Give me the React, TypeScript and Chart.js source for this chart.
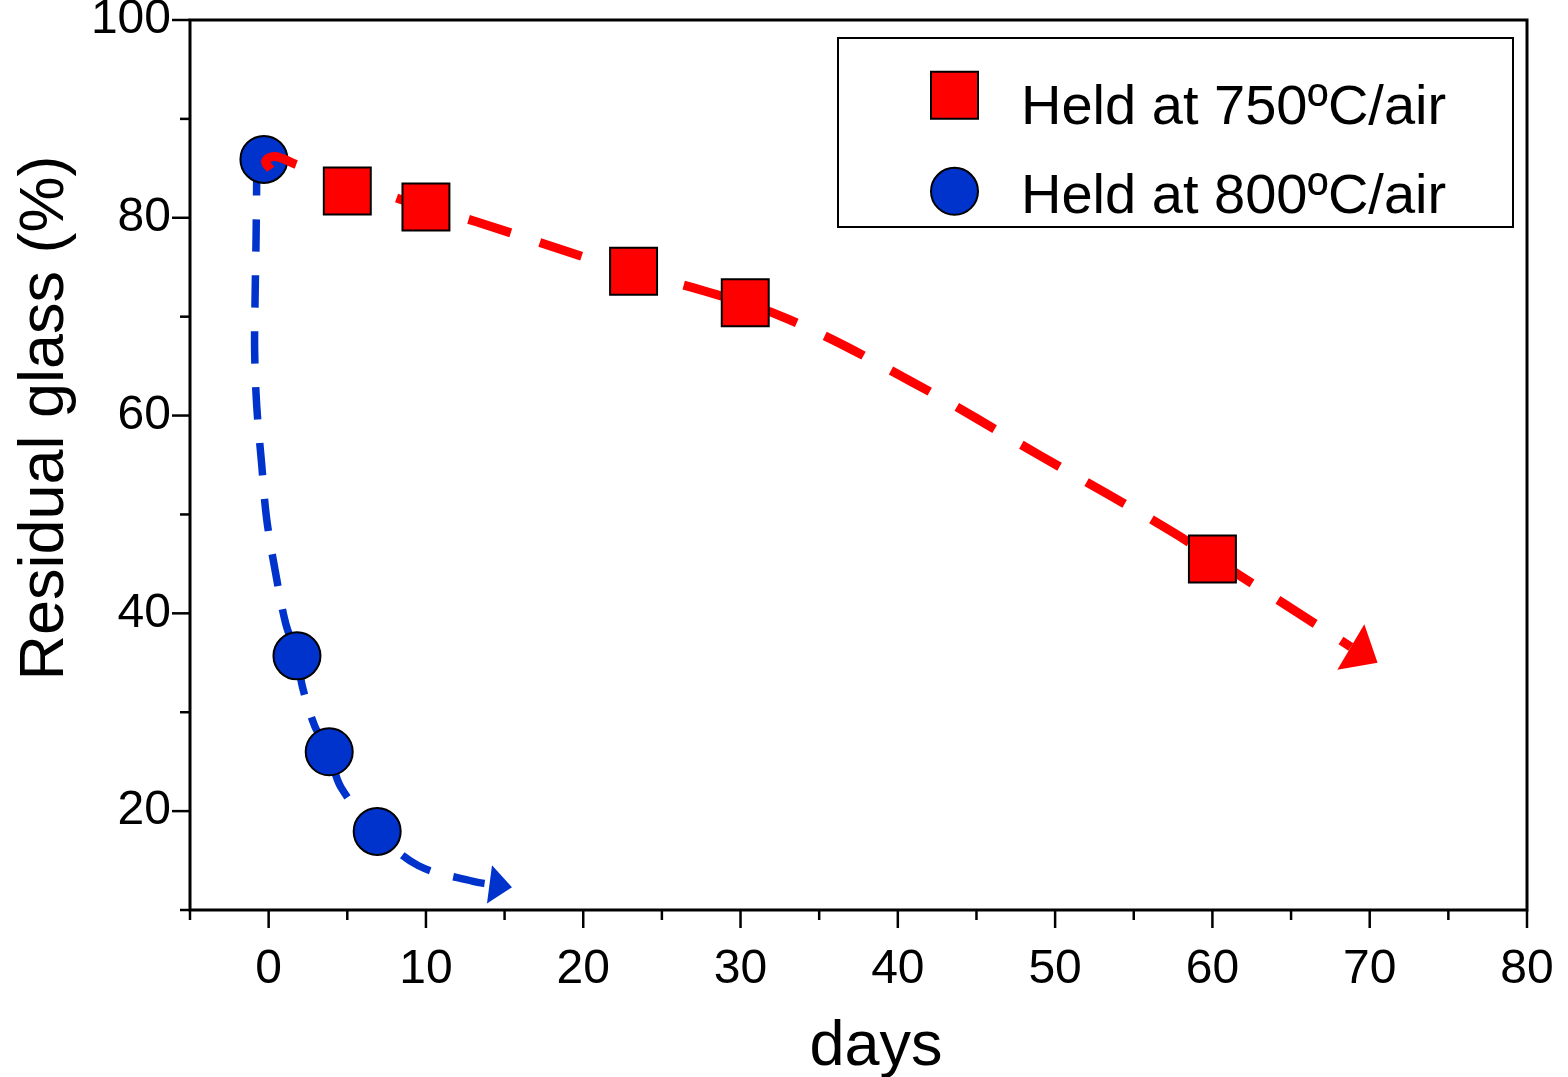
import React, { useEffect, useRef } from 'react';
import { Chart, registerables } from 'chart.js';

Chart.register(...registerables);

const FONT = '"Liberation Sans", Arial, Helvetica, sans-serif';

// ---- data ----
const seriesLabels = ['Held at 750ºC/air', 'Held at 800ºC/air'];
const xTitle = 'days';
const yTitle = 'Residual glass (%)';

const xTickLabels = [0, 10, 20, 30, 40, 50, 60, 70, 80];
const yTickLabels = [20, 40, 60, 80, 100];

const days750 = [5, 10, 23.2, 30.3, 60];
const glass750 = [82.7, 81.1, 74.6, 71.4, 45.5];

const days800 = [-0.3, 1.8, 3.85, 6.9];
const glass800 = [85.9, 35.7, 26.0, 17.95];

// dashed guide curves (read from the dashes) and their arrow tips
const trend750Days = [0.13, -0.2, 0.4, 1.9, 4.9, 6.4, 8.5, 13.2, 20.1, 23.2, 27.7, 33.1, 40.9, 49.1, 57.4, 60, 65.4, 68.8];
const trend750Glass = [84.9, 85.7, 86.2, 85.3, 84.0, 83.1, 81.8, 79.6, 76.0, 74.5, 72.6, 69.7, 63.4, 55.9, 48.3, 45.6, 40.1, 36.6];
const trend750Tip = [70.5, 35.0];

const trend800Days = [-0.75, -0.8, -0.86, -0.89, -0.76, -0.45, -0.13, 0.45, 1.08, 1.78, 2.16, 2.93, 3.82, 4.6, 6.9, 9.5, 13.0, 14.04];
const trend800Glass = [85.5, 77.9, 72.1, 66.5, 61.0, 55.2, 49.6, 44.0, 39.0, 35.7, 32.5, 28.6, 26.0, 22.4, 17.9, 14.5, 12.9, 12.6];
const trend800Tip = [15.47, 12.3];

const RED = '#FF0000';
const BLUE = '#0033CC';

const toPoints = (xs: number[], ys: number[]) => xs.map((x, i) => ({ x, y: ys[i] }));

const framePlugin = {
  id: 'frame',
  afterDraw(chart: any) {
    const { ctx, chartArea: a, scales } = chart;
    const xs = scales.x;
    const ys = scales.y;
    ctx.save();
    ctx.strokeStyle = '#000';
    ctx.lineCap = 'butt';
    // ticks
    ctx.lineWidth = 2.5;
    xs.ticks.forEach((t: any) => {
      const px = xs.getPixelForValue(t.value);
      const len = t.value % 10 === 0 ? 18 : 10;
      ctx.beginPath();
      ctx.moveTo(px, a.bottom);
      ctx.lineTo(px, a.bottom + len);
      ctx.stroke();
    });
    ys.ticks.forEach((t: any) => {
      const py = ys.getPixelForValue(t.value);
      const len = t.value % 20 === 0 ? 18 : 10;
      ctx.beginPath();
      ctx.moveTo(a.left, py);
      ctx.lineTo(a.left - len, py);
      ctx.stroke();
    });
    // box
    ctx.lineWidth = 3;
    ctx.strokeRect(a.left, a.top, a.right - a.left, a.bottom - a.top);

    // axis titles
    ctx.fillStyle = '#000';
    ctx.font = `63px ${FONT}`;
    ctx.textAlign = 'center';
    ctx.textBaseline = 'alphabetic';
    ctx.fillText(xTitle, 876, 1065);
    ctx.save();
    ctx.translate(63, 418);
    ctx.rotate(-Math.PI / 2);
    ctx.fillText(yTitle, 0, 0);
    ctx.restore();

    // legend
    const lx = a.right - 689;
    const ly = a.top + 18;
    ctx.lineWidth = 2;
    ctx.strokeRect(lx, ly, 675, 189);
    const markers = chart.data.datasets.filter((d: any) => d.label);
    markers.forEach((d: any, i: number) => {
      const cx = lx + 116.5;
      const cy = ly + 57.3 + i * 96;
      ctx.fillStyle = d.backgroundColor;
      ctx.strokeStyle = '#000';
      ctx.lineWidth = 2;
      ctx.beginPath();
      if (d.pointStyle === 'rect') {
        ctx.rect(cx - 23.5, cy - 23.5, 47, 47);
      } else {
        ctx.arc(cx, cy, 23.5, 0, Math.PI * 2);
      }
      ctx.fill();
      ctx.stroke();
      ctx.fillStyle = '#000';
      ctx.font = `56px ${FONT}`;
      ctx.textAlign = 'left';
      ctx.textBaseline = 'alphabetic';
      ctx.fillText(d.label, lx + 183, ly + 86.3 + i * 88.4);
    });
    ctx.restore();
  },
};

const arrowPlugin = {
  id: 'arrows',
  afterDatasetsDraw(chart: any) {
    const { ctx, scales } = chart;
    chart.data.datasets.forEach((d: any) => {
      if (!d.arrowTip) return;
      const last = d.data[d.data.length - 1];
      const bx = scales.x.getPixelForValue(last.x);
      const by = scales.y.getPixelForValue(last.y);
      const tx = scales.x.getPixelForValue(d.arrowTip[0]);
      const ty = scales.y.getPixelForValue(d.arrowTip[1]);
      const dx = tx - bx;
      const dy = ty - by;
      const len = Math.hypot(dx, dy) || 1;
      const nx = -dy / len;
      const ny = dx / len;
      const hw = d.arrowHalfWidth;
      ctx.save();
      ctx.fillStyle = d.borderColor;
      ctx.beginPath();
      ctx.moveTo(tx, ty);
      ctx.lineTo(bx + nx * hw, by + ny * hw);
      ctx.lineTo(bx - nx * hw, by - ny * hw);
      ctx.closePath();
      ctx.fill();
      ctx.restore();
    });
  },
};

const hiddenGrid = (tickLength: number) => ({
  display: true,
  drawOnChartArea: false,
  drawTicks: true,
  tickLength,
  color: 'rgba(0,0,0,0)',
});

export default function App() {
  const ref = useRef<HTMLCanvasElement | null>(null);

  useEffect(() => {
    document.body.style.margin = '0';
    const canvas = ref.current;
    if (!canvas) return;
    const chart = new Chart(canvas, {
      type: 'line',
      data: {
        datasets: [
          {
            label: seriesLabels[0],
            data: toPoints(days750, glass750),
            showLine: false,
            pointStyle: 'rect',
            pointRadius: 33.2,
            pointBorderWidth: 2,
            backgroundColor: RED,
            pointBackgroundColor: RED,
            pointBorderColor: '#000',
            borderColor: '#000',
            order: 0,
          } as any,
          {
            data: toPoints(trend750Days, trend750Glass),
            borderColor: RED,
            borderWidth: 9,
            borderDash: [44, 31],
            borderCapStyle: 'butt',
            tension: 0.4,
            pointRadius: 0,
            fill: false,
            order: 1,
            arrowTip: trend750Tip,
            arrowHalfWidth: 26.5,
          } as any,
          {
            label: seriesLabels[1],
            data: toPoints(days800, glass800),
            showLine: false,
            pointStyle: 'circle',
            pointRadius: 23.5,
            pointBorderWidth: 2,
            backgroundColor: BLUE,
            pointBackgroundColor: BLUE,
            pointBorderColor: '#000',
            borderColor: '#000',
            order: 2,
          } as any,
          {
            data: toPoints(trend800Days, trend800Glass),
            borderColor: BLUE,
            borderWidth: 7.5,
            borderDash: [32, 24],
            borderCapStyle: 'butt',
            tension: 0.35,
            pointRadius: 0,
            fill: false,
            order: 3,
            arrowTip: trend800Tip,
            arrowHalfWidth: 19.3,
          } as any,
        ],
      },
      options: {
        animation: false,
        responsive: false,
        devicePixelRatio: 1,
        events: [],
        layout: { autoPadding: false, padding: { top: 20, right: 41, left: 0, bottom: 0 } },
        plugins: {
          legend: { display: false },
          tooltip: { enabled: false },
          title: { display: false },
        },
        scales: {
          x: {
            type: 'linear',
            min: -5,
            max: 80,
            grid: hiddenGrid(36),
            border: { display: false },
            ticks: {
              stepSize: 5,
              autoSkip: false,
              maxRotation: 0,
              padding: 0,
              color: '#000',
              font: { family: FONT, size: 48, lineHeight: 1 },
              callback: (v: any) => (xTickLabels.includes(Number(v)) ? String(v) : ''),
            },
            afterFit: (s: any) => {
              s.height = 167;
              s.paddingLeft = 0;
              s.paddingRight = 0;
              s.paddingTop = 0;
              s.paddingBottom = 0;
            },
          },
          y: {
            type: 'linear',
            min: 10,
            max: 100,
            grid: hiddenGrid(19),
            border: { display: false },
            ticks: {
              stepSize: 10,
              autoSkip: false,
              padding: 0,
              color: '#000',
              font: { family: FONT, size: 48, lineHeight: 1 },
              callback: (v: any) => (yTickLabels.includes(Number(v)) ? String(v) : ''),
            },
            afterFit: (s: any) => {
              s.width = 190;
              s.paddingLeft = 0;
              s.paddingRight = 0;
              s.paddingTop = 0;
              s.paddingBottom = 0;
            },
          },
        },
      },
      plugins: [framePlugin, arrowPlugin],
    });
    return () => chart.destroy();
  }, []);

  return (
    <div style={{ position: 'absolute', left: 0, top: 0, width: 1568, height: 1077, background: '#fff' }}>
      <canvas ref={ref} width={1568} height={1077} style={{ display: 'block' }} />
    </div>
  );
}
